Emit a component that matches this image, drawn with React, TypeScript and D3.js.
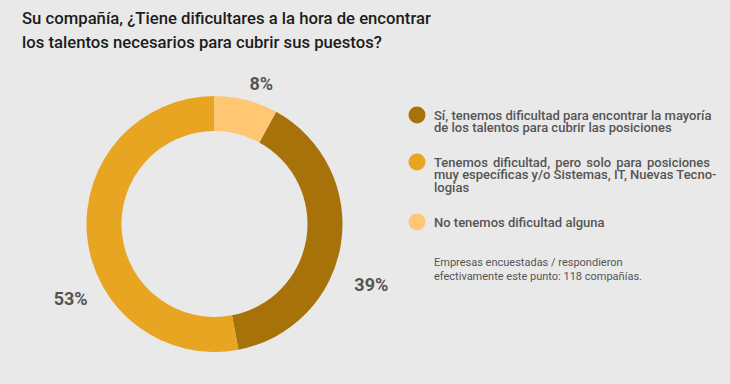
import React, { useEffect, useRef } from 'react';
import * as d3 from 'd3';

const titleLines = [
  'Su compañía, ¿Tiene dificultares a la hora de encontrar',
  'los talentos necesarios para cubrir sus puestos?',
];

const categories = [
  'Sí, tenemos dificultad para encontrar la mayoría de los talentos para cubrir las posiciones',
  'Tenemos dificultad, pero solo para posiciones muy específicas y/o Sistemas, IT, Nuevas Tecnologías',
  'No tenemos dificultad alguna',
];
const values = [39, 53, 8];
const colors = ['#a8720a', '#e8a521', '#ffc774'];

// legend text as broken in the original (last line of each item is not justified)
const legendLines = [
  ['Sí, tenemos dificultad para encontrar la mayoría', 'de los talentos para cubrir las posiciones'],
  ['Tenemos dificultad, pero solo para posiciones', 'muy específicas y/o Sistemas, IT, Nuevas Tecno-', 'logías'],
  ['No tenemos dificultad alguna'],
];

const footnote = [
  'Empresas encuestadas / respondieron',
  'efectivamente este punto: 118 compañías.',
];

// label nudges (degrees) to mimic the original label placement
const labelShift = [12, -22, 4];
const labelRadius = [168, 162, 148];

const App: React.FC = () => {
  const ref = useRef<SVGSVGElement>(null);

  useEffect(() => {
    const svg = d3.select(ref.current);
    svg.selectAll('*').remove();

    const width = 730;
    const height = 384;
    const font = 'Roboto, "Noto Sans", sans-serif';

    svg.append('rect').attr('width', width).attr('height', height).attr('fill', '#e9e9e9');

    svg.append('g')
      .selectAll('text')
      .data(titleLines)
      .enter().append('text')
      .attr('x', 22)
      .attr('y', (_, i) => 24 + i * 23.5)
      .attr('font-family', font)
      .attr('font-size', 16.7)
      .attr('font-weight', 500)
      .attr('fill', '#1c1c1c')
      .text(d => d);

    const cx = 214.5;
    const cy = 224;
    const outer = 128;
    const inner = 93;

    const total = d3.sum(values);
    const start = (values[values.length - 1] / total) * 2 * Math.PI;
    const pie = d3.pie<number>().sort(null).startAngle(start).endAngle(start + 2 * Math.PI);
    const arcs = pie(values);
    const arc = d3.arc<d3.PieArcDatum<number>>().innerRadius(inner).outerRadius(outer);

    const g = svg.append('g').attr('transform', `translate(${cx},${cy})`);
    g.selectAll('path')
      .data(arcs)
      .enter().append('path')
      .attr('d', arc)
      .attr('fill', (_, i) => colors[i]);

    g.selectAll('text.lbl')
      .data(arcs)
      .enter().append('text')
      .attr('class', 'lbl')
      .attr('transform', (d, i) => {
        const a = (d.startAngle + d.endAngle) / 2 + (labelShift[i] * Math.PI) / 180;
        const r = labelRadius[i];
        return `translate(${Math.sin(a) * r},${-Math.cos(a) * r})`;
      })
      .attr('text-anchor', 'middle')
      .attr('dy', '0.36em')
      .attr('font-family', font)
      .attr('font-size', 18)
      .attr('font-weight', 700)
      .attr('fill', '#555555')
      .text(d => `${d.data}%`);

    // legend
    const lx = 434;
    const lineW = 276;
    const itemY = [115, 162, 222];
    const legend = svg.append('g');
    categories.forEach((c, i) => {
      const item = legend.append('g').attr('data-category', c);
      item.append('circle')
        .attr('cx', 417)
        .attr('cy', itemY[i])
        .attr('r', 8.5)
        .attr('fill', colors[i]);
      const lines = legendLines[i];
      lines.forEach((line, j) => {
        const t = item.append('text')
          .attr('x', lx)
          .attr('y', itemY[i] + 4.5 + j * 12.8)
          .attr('font-family', font)
          .attr('font-size', 13)
          .attr('font-weight', 500)
          .attr('fill', '#555555')
          .text(line);
        if (j < lines.length - 1) {
          const node = t.node() as SVGTextElement;
          const len = node.getComputedTextLength();
          const spaces = (line.match(/ /g) || []).length;
          if (spaces > 0 && len < lineW) t.attr('word-spacing', (lineW - len) / spaces);
        }
      });
    });

    legend.selectAll('text.note')
      .data(footnote)
      .enter().append('text')
      .attr('class', 'note')
      .attr('x', lx)
      .attr('y', (_, i) => 266 + i * 14)
      .attr('font-family', font)
      .attr('font-size', 11)
      .attr('fill', '#555555')
      .text(d => d);
  }, []);

  return (
    <svg ref={ref} width={730} height={384} style={{ position: 'absolute', left: 0, top: 0 }}></svg>
  );
};

export default App;
